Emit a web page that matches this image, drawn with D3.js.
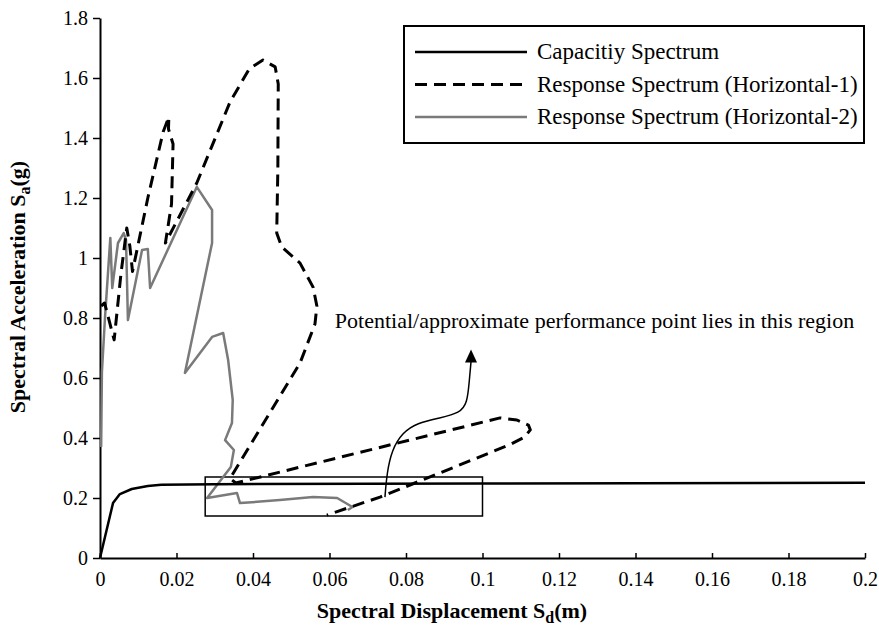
<!DOCTYPE html>
<html>
<head>
<meta charset="utf-8">
<script src="https://cdn.jsdelivr.net/npm/d3@7"></script>
<style>
  body { margin: 0; background: #fff; }
  svg { display: block; font-family: "Liberation Serif", "Times New Roman", serif; }
</style>
</head>
<body>
<svg id="chart" width="879" height="630"></svg>
<script>
// spectral displacement (m), spectral acceleration (g)
const capacity = [
  [0, 0], [0.0034, 0.183], [0.0052, 0.213], [0.0083, 0.23], [0.0125, 0.24],
  [0.016, 0.244], [0.03, 0.246], [0.1, 0.248], [0.2, 0.251]
];

const horizontal1 = [
  [0.0003, 0.84], [0.0012, 0.85], [0.0037, 0.727], [0.0055, 0.95], [0.007, 1.10],
  [0.0078, 1.04], [0.0085, 0.955], [0.0125, 1.2], [0.0165, 1.42], [0.018, 1.47],
  [0.0179, 1.43], [0.0191, 1.38], [0.0187, 1.18], [0.0171, 1.05], [0.0253, 1.25],
  [0.034, 1.52], [0.039, 1.63], [0.0426, 1.66], [0.0458, 1.637], [0.0466, 1.58],
  [0.0465, 1.30], [0.0462, 1.083], [0.0475, 1.037], [0.0523, 0.983], [0.0557, 0.903],
  [0.0567, 0.84], [0.0562, 0.78], [0.0523, 0.65], [0.034, 0.265], [0.0355, 0.25],
  [0.0714, 0.363], [0.1046, 0.467], [0.109, 0.46], [0.112, 0.443], [0.1125, 0.427],
  [0.111, 0.403], [0.107, 0.377], [0.0732, 0.203], [0.0593, 0.143]
];

const horizontal2 = [
  [0.0003, 0.37], [0.0005, 0.62], [0.0013, 0.80], [0.0027, 1.067], [0.0032, 0.90],
  [0.0047, 1.05], [0.0062, 1.083], [0.0068, 1.06], [0.0073, 0.793], [0.011, 1.027],
  [0.0125, 1.03], [0.0131, 0.9], [0.0253, 1.237], [0.0293, 1.16], [0.0293, 1.05],
  [0.0222, 0.617], [0.0293, 0.737], [0.0322, 0.75], [0.0335, 0.66], [0.0347, 0.527],
  [0.0345, 0.45], [0.0327, 0.393], [0.035, 0.36], [0.0342, 0.303], [0.028, 0.2],
  [0.0358, 0.217], [0.0366, 0.183], [0.047, 0.193], [0.0557, 0.203], [0.062, 0.2],
  [0.066, 0.17], [0.0648, 0.16]
];

const xTicks = [0, 0.02, 0.04, 0.06, 0.08, 0.1, 0.12, 0.14, 0.16, 0.18, 0.2];
const yTicks = [0, 0.2, 0.4, 0.6, 0.8, 1, 1.2, 1.4, 1.6, 1.8];

// performance point region box and annotation arrow
const regionD = [0.0275, 0.1];
const regionSa = [0.14, 0.27];
const arrowPath = [
  [0.0745, 0.203], [0.075, 0.283], [0.0763, 0.36], [0.079, 0.417], [0.0829, 0.45],
  [0.0889, 0.467], [0.0941, 0.483], [0.096, 0.517], [0.0965, 0.583], [0.097, 0.655]
];
const noteText = "Potential/approximate performance point lies in this region";
const notePos = [0.0614, 0.768];

const legendLabels = [
  "Capacitiy Spectrum",
  "Response Spectrum (Horizontal-1)",
  "Response Spectrum (Horizontal-2)"
];

const svg = d3.select("#chart");
const margin = { top: 18, right: 14, bottom: 72, left: 100 };
const width = 879, height = 630;
const serif = "'Liberation Serif', 'Times New Roman', serif";

const x = d3.scaleLinear().domain([0, 0.2]).range([margin.left, width - margin.right]);
const y = d3.scaleLinear().domain([0, 1.8]).range([height - margin.bottom, margin.top]);

const styles = [
  { stroke: "#000", width: 2.5, dash: null },
  { stroke: "#000", width: 3, dash: "12,7" },
  { stroke: "#7a7a7a", width: 2.5, dash: null }
];

// axes
svg.append("g")
  .attr("transform", `translate(0,${y(0)})`)
  .call(d3.axisBottom(x).tickValues(xTicks).tickFormat(d => String(+d.toFixed(2)))
    .tickSizeInner(-5).tickSizeOuter(0).tickPadding(14))
  .call(g => g.select(".domain").attr("stroke-width", 2))
  .call(g => g.selectAll(".tick line").attr("stroke-width", 1.5))
  .call(g => g.selectAll("text").attr("font-size", 20).attr("font-family", serif));

svg.append("g")
  .attr("transform", `translate(${x(0)},0)`)
  .call(d3.axisLeft(y).tickValues(yTicks).tickFormat(d => String(+d.toFixed(1)))
    .tickSizeInner(7).tickSizeOuter(0).tickPadding(5))
  .call(g => g.select(".domain").attr("stroke-width", 2))
  .call(g => g.selectAll(".tick line").attr("stroke-width", 1.5))
  .call(g => g.selectAll("text").attr("font-size", 20).attr("font-family", serif));

// region rectangle
svg.append("rect")
  .attr("x", x(regionD[0]))
  .attr("y", y(regionSa[1]))
  .attr("width", x(regionD[1]) - x(regionD[0]))
  .attr("height", y(regionSa[0]) - y(regionSa[1]))
  .attr("fill", "none")
  .attr("stroke", "#000")
  .attr("stroke-width", 1.5);

// series
const line = d3.line().x(d => x(d[0])).y(d => y(d[1]));
[horizontal2, horizontal1, capacity].forEach((data, i) => {
  const s = styles[2 - i];
  svg.append("path")
    .datum(data)
    .attr("d", line)
    .attr("fill", "none")
    .attr("stroke", s.stroke)
    .attr("stroke-width", s.width)
    .attr("stroke-dasharray", s.dash)
    .attr("stroke-linejoin", "round");
});

// annotation arrow
const curve = d3.line().x(d => x(d[0])).y(d => y(d[1])).curve(d3.curveBasis);
svg.append("path")
  .datum(arrowPath)
  .attr("d", curve)
  .attr("fill", "none")
  .attr("stroke", "#000")
  .attr("stroke-width", 1.5);

const tip = arrowPath[arrowPath.length - 1];
const tx = x(tip[0]), ty = y(tip[1]);
svg.append("path")
  .attr("d", `M${tx},${ty - 12}L${tx - 6},${ty + 1}L${tx + 6},${ty + 1}Z`)
  .attr("fill", "#000");

svg.append("text")
  .attr("x", x(notePos[0]))
  .attr("y", y(notePos[1]))
  .attr("font-size", 22)
  .text(noteText);

// axis titles
const xt = svg.append("text")
  .attr("x", 452)
  .attr("y", 618)
  .attr("text-anchor", "middle")
  .attr("font-weight", "bold")
  .attr("font-size", 22);
xt.append("tspan").text("Spectral Displacement S");
xt.append("tspan").attr("font-size", 16).attr("dy", 5).text("d");
xt.append("tspan").attr("dy", -5).text("(m)");

const yt = svg.append("text")
  .attr("transform", "translate(25,287) rotate(-90)")
  .attr("text-anchor", "middle")
  .attr("font-weight", "bold")
  .attr("font-size", 22);
yt.append("tspan").text("Spectral Acceleration S");
yt.append("tspan").attr("font-size", 16).attr("dy", 5).text("a");
yt.append("tspan").attr("dy", -5).text("(g)");

// legend
const legend = svg.append("g").attr("transform", "translate(404,26)");
legend.append("rect")
  .attr("width", 460)
  .attr("height", 117)
  .attr("fill", "#fff")
  .attr("stroke", "#000")
  .attr("stroke-width", 2);

legendLabels.forEach((label, i) => {
  const s = styles[i];
  const yy = 26 + i * 32.5;
  legend.append("line")
    .attr("x1", 11).attr("x2", 123)
    .attr("y1", yy).attr("y2", yy)
    .attr("stroke", s.stroke)
    .attr("stroke-width", s.width)
    .attr("stroke-dasharray", s.dash);
  legend.append("text")
    .attr("x", 133)
    .attr("y", yy + 7)
    .attr("font-size", 23)
    .text(label);
});
</script>
</body>
</html>
